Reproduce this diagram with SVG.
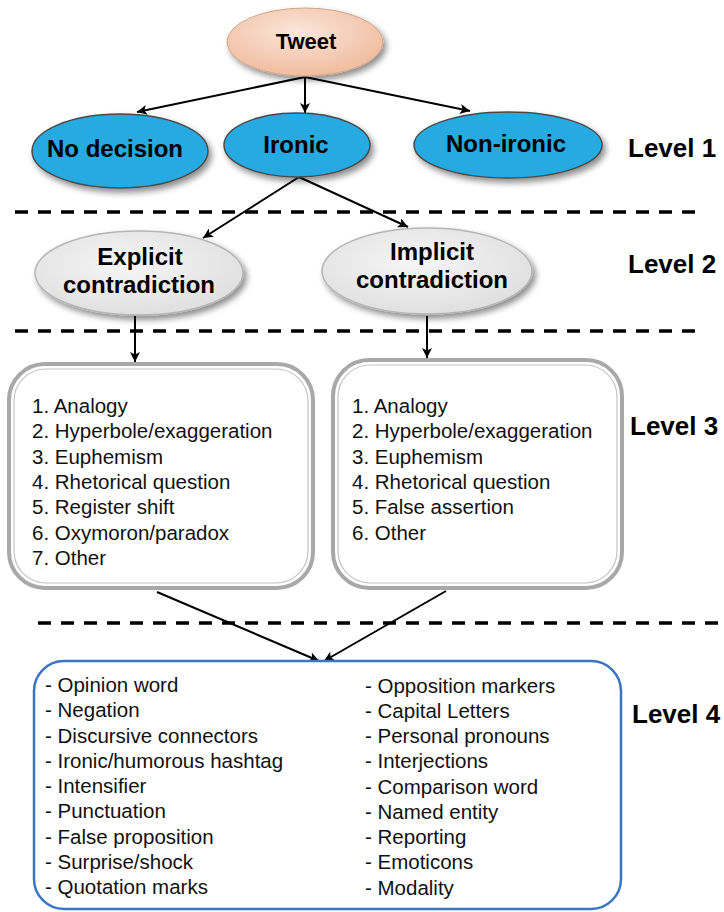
<svg xmlns="http://www.w3.org/2000/svg" width="724" height="912" viewBox="0 0 724 912">
<defs>
  <radialGradient id="gTweet" cx="0.45" cy="0.35" r="0.65">
    <stop offset="0" stop-color="#fbe6da"/>
    <stop offset="1" stop-color="#f0bc9e"/>
  </radialGradient>
  <radialGradient id="gGray" cx="0.45" cy="0.4" r="0.65">
    <stop offset="0" stop-color="#f6f6f6"/>
    <stop offset="1" stop-color="#dedede"/>
  </radialGradient>
  <filter id="shadow" x="-20%" y="-20%" width="150%" height="160%">
    <feDropShadow dx="3" dy="4" stdDeviation="3" flood-color="#000" flood-opacity="0.45"/>
  </filter>
  <marker id="arrow" viewBox="0 0 10 10" refX="10" refY="5" markerWidth="10" markerHeight="10" markerUnits="userSpaceOnUse" orient="auto">
    <path d="M0,0 L10,5 L0,10 L2.5,5 Z" fill="#000"/>
  </marker>
</defs>
<style>
  .lbl { font-family: "Liberation Sans", Arial, sans-serif; font-weight: bold; fill: #000; text-anchor: middle; }
  .lvl { font-family: "Liberation Sans", Arial, sans-serif; font-weight: bold; font-size: 26px; fill: #000; }
  .item { font-family: "Liberation Sans", Arial, sans-serif; font-size: 20.5px; fill: #111; }
  .blue { fill: #27aae1; stroke: #4a4a4a; stroke-width: 1.5; filter: url(#shadow); }
  .gray { fill: url(#gGray); stroke: #b5b5b5; stroke-width: 1.5; filter: url(#shadow); }
  .conn { stroke: #000; stroke-width: 2; fill: none; marker-end: url(#arrow); }
  .dash { stroke: #000; stroke-width: 3.5; stroke-dasharray: 13 10; fill: none; }
  .box-out { fill: #fff; stroke: #a8a8a8; stroke-width: 4; }
  .box-in { fill: none; stroke: #c4c4c4; stroke-width: 1.2; }
</style>

<g id="separators">
  <line class="dash" x1="15" y1="212" x2="704" y2="212"/>
  <line class="dash" x1="15" y1="331" x2="704" y2="331"/>
  <line class="dash" x1="38" y1="623" x2="724" y2="623"/>
</g>

<g id="connectors">
  <line class="conn" x1="305" y1="77" x2="137" y2="112"/>
  <line class="conn" x1="305" y1="77" x2="305" y2="113"/>
  <line class="conn" x1="305" y1="77" x2="470" y2="111"/>
  <line class="conn" x1="299" y1="177" x2="203" y2="238"/>
  <line class="conn" x1="299" y1="177" x2="408" y2="227"/>
  <line class="conn" x1="135" y1="316" x2="135" y2="362"/>
  <line class="conn" x1="427" y1="316" x2="427" y2="358"/>
  <line class="conn" x1="157" y1="592" x2="319" y2="661"/>
  <line class="conn" x1="446" y1="591" x2="324" y2="661"/>
</g>

<g id="tweet">
  <ellipse cx="305" cy="42" rx="78" ry="34" fill="url(#gTweet)" stroke="#d2a68c" stroke-width="1" filter="url(#shadow)"/>
  <text class="lbl" x="306" y="49" font-size="22">Tweet</text>
</g>

<g id="no-decision">
  <ellipse class="blue" cx="120" cy="151" rx="88" ry="37"/>
  <text class="lbl" x="115" y="157" font-size="24">No decision</text>
</g>

<g id="ironic">
  <ellipse class="blue" cx="297" cy="145" rx="73" ry="32"/>
  <text class="lbl" x="296" y="153" font-size="24">Ironic</text>
</g>

<g id="non-ironic">
  <ellipse class="blue" cx="508" cy="145" rx="94" ry="33"/>
  <text class="lbl" x="506" y="152" font-size="24">Non-ironic</text>
</g>

<g id="explicit">
  <ellipse class="gray" cx="139" cy="273" rx="104" ry="42"/>
  <text class="lbl" x="140" y="265" font-size="24">Explicit</text>
  <text class="lbl" x="139" y="293" font-size="24">contradiction</text>
</g>

<g id="implicit">
  <ellipse class="gray" cx="427" cy="271" rx="105" ry="43"/>
  <text class="lbl" x="432" y="260" font-size="24">Implicit</text>
  <text class="lbl" x="432" y="288" font-size="24">contradiction</text>
</g>

<g id="explicit-list">
  <rect class="box-out" x="9" y="364" width="304" height="224" rx="36"/>
  <rect class="box-in" x="14" y="369" width="294" height="214" rx="32"/>
  <text class="item" x="32" y="413">1. Analogy</text>
  <text class="item" x="32" y="438">2. Hyperbole/exaggeration</text>
  <text class="item" x="32" y="464">3. Euphemism</text>
  <text class="item" x="32" y="489">4. Rhetorical question</text>
  <text class="item" x="32" y="514">5. Register shift</text>
  <text class="item" x="32" y="540">6. Oxymoron/paradox</text>
  <text class="item" x="32" y="565">7. Other</text>
</g>

<g id="implicit-list">
  <rect class="box-out" x="333" y="360" width="289" height="228" rx="36"/>
  <rect class="box-in" x="338" y="365" width="279" height="218" rx="32"/>
  <text class="item" x="352" y="413">1. Analogy</text>
  <text class="item" x="352" y="438">2. Hyperbole/exaggeration</text>
  <text class="item" x="352" y="464">3. Euphemism</text>
  <text class="item" x="352" y="489">4. Rhetorical question</text>
  <text class="item" x="352" y="514">5. False assertion</text>
  <text class="item" x="352" y="540">6. Other</text>
</g>

<g id="features">
  <rect x="34" y="661" width="587" height="248" rx="30" fill="#fff" stroke="#3a76c4" stroke-width="2.5"/>
  <text class="item" x="45" y="692">- Opinion word</text>
  <text class="item" x="45" y="717">- Negation</text>
  <text class="item" x="45" y="743">- Discursive connectors</text>
  <text class="item" x="45" y="768">- Ironic/humorous hashtag</text>
  <text class="item" x="45" y="793">- Intensifier</text>
  <text class="item" x="45" y="818">- Punctuation</text>
  <text class="item" x="45" y="844">- False proposition</text>
  <text class="item" x="45" y="869">- Surprise/shock</text>
  <text class="item" x="45" y="894">- Quotation marks</text>
  <text class="item" x="365" y="693">- Opposition markers</text>
  <text class="item" x="365" y="718">- Capital Letters</text>
  <text class="item" x="365" y="743">- Personal pronouns</text>
  <text class="item" x="365" y="768">- Interjections</text>
  <text class="item" x="365" y="794">- Comparison word</text>
  <text class="item" x="365" y="819">- Named entity</text>
  <text class="item" x="365" y="844">- Reporting</text>
  <text class="item" x="365" y="869">- Emoticons</text>
  <text class="item" x="365" y="895">- Modality</text>
</g>

<g id="levels">
  <text class="lvl" x="628" y="157">Level 1</text>
  <text class="lvl" x="628" y="273">Level 2</text>
  <text class="lvl" x="630" y="435">Level 3</text>
  <text class="lvl" x="632" y="723">Level 4</text>
</g>
</svg>
